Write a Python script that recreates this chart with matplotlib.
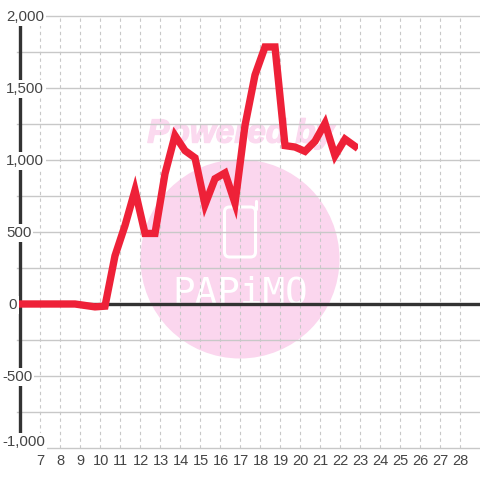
import matplotlib
matplotlib.use("Agg")
import matplotlib.pyplot as plt
import matplotlib.patheffects as pe
from matplotlib.patches import Circle, FancyBboxPatch, Rectangle
from matplotlib.transforms import Affine2D

plt.rcParams['font.family'] = ['Liberation Sans', 'DejaVu Sans']

# half hour readings, first one falls just left of the axis
hours = [5.75, 6.25, 6.75, 7.25, 7.75, 8.25, 8.75, 9.25, 9.75, 10.25, 10.75, 11.25, 11.75, 12.25, 12.75,
         13.25, 13.75, 14.25, 14.75, 15.25, 15.75, 16.25, 16.75, 17.25, 17.75, 18.25, 18.75, 19.25,
         19.75, 20.25, 20.75, 21.25, 21.75, 22.25, 22.75]
values = [0, 0, 0, 0, 0, 0, 0, -10, -20, -15, 335, 545, 790, 490, 490, 905, 1170, 1065, 1015,
          690, 870, 910, 700, 1240, 1590, 1785, 1785, 1100, 1090, 1060, 1130, 1255, 1030, 1145, 1095]

x_ticks = list(range(7, 29))
y_ticks = [2000, 1500, 1000, 500, 0, -500, -1000]
y_minor = [1750, 1250, 750, 250, -250, -750]

fig = plt.figure(figsize=(4.8, 4.8), dpi=100)
# axes box in pixels: 17..480 across, 16..448 down
ax = fig.add_axes([17 / 480, 32 / 480, 463 / 480, 432 / 480])
ax.set_xlim(5.85, 29)
ax.set_ylim(-1000, 2000)
ax.axis('off')

# pixel transform with origin top left, makes the watermark easy to place
px = Affine2D().scale(1, -1).translate(0, 480)

# watermark
ax.add_patch(Circle((240, 259), 99.5, transform=px, color='#fbd6ee', lw=0, zorder=1))
ax.text(241, 134, 'Powered by', transform=px, ha='center', va='center', fontsize=24,
        fontweight='bold', fontstyle='italic', color='#fbd9ef', zorder=1,
        path_effects=[pe.withStroke(linewidth=1.0, foreground='#fbd9ef')])
ax.add_patch(FancyBboxPatch((224.5, 207), 31, 50, boxstyle='round,pad=0,rounding_size=5', transform=px,
                            fc='none', ec='white', lw=2.2, zorder=1.5))
ax.plot([255.5, 255.5], [209, 201], transform=px, color='white', lw=2.2, solid_capstyle='round', zorder=1.5)
ax.text(240, 304, 'PAPiMO', transform=px, ha='center', va='baseline', fontsize=27,
        family='DejaVu Sans Mono', color='white', zorder=1.5)

for h in x_ticks:
    ax.axvline(h, color='#c8c8c8', lw=0.8, ls=(0, (3, 3)), clip_on=False, zorder=2)
    ax.text(h + 0.03, -1045, str(h), ha='center', va='top', fontsize=10.5, color='#444444', clip_on=False, zorder=6)
for v in y_ticks + y_minor:
    ax.axhline(v, color='#c8c8c8', lw=1.0, clip_on=False, zorder=2)

ax.plot([6, 6], [-1000, 2000], color='#333333', lw=2.4, solid_capstyle='butt', zorder=3)
ax.plot([6, 29], [0, 0], color='#333333', lw=2.4, solid_capstyle='butt', zorder=3)

for v in y_ticks:
    left = 2 if v < 0 else (8 if v == 0 else 6)
    y = 448 - (v + 1000) / 3000 * 432 + 1
    if v == -1000:
        y = 442
    ax.text(left, y, f'{v:,}', transform=px, ha='left', va='center', fontsize=10.8, color='#444444', zorder=5,
            bbox=dict(fc='white', ec='none', pad=1.5))

line, = ax.plot(hours, values, color='#ee2138', lw=5.3, solid_joinstyle='miter', solid_capstyle='projecting', zorder=4)
# line ends in a straight vertical cut
line.set_clip_path(Rectangle((17, 0), 341, 480, transform=px))

fig.savefig('out.png', dpi=100)
